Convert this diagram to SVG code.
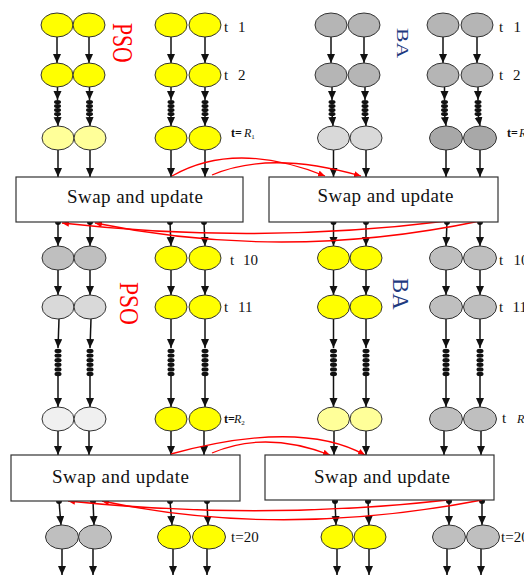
<svg xmlns="http://www.w3.org/2000/svg" width="524" height="575" viewBox="0 0 524 575">
<style>
.n{stroke:#333;stroke-width:1}
.y{fill:#ffff00}.ly{fill:#ffff99}.g1{fill:#b5b5b5}.g2{fill:#bfbfbf}.g3{fill:#d9d9d9}.g4{fill:#a8a8a8}.g5{fill:#f0f0f0}
.box{fill:#fff;stroke:#333;stroke-width:1.2}
.bt{font-family:"Liberation Serif",serif;font-size:19px;fill:#111}
.t{font-family:"Liberation Serif",serif;font-size:15px;fill:#111}
.ts{font-family:"Liberation Serif",serif;font-size:12px;fill:#111}
.k line{stroke:#111;stroke-width:1.5}
.k .a{marker-end:url(#ah)}
.blob{fill:#111}
.red{fill:none;stroke:#ff0000;stroke-width:1.3;marker-end:url(#rh)}
</style>
<defs>
<marker id="ah" markerUnits="userSpaceOnUse" markerWidth="9" markerHeight="9" refX="9" refY="4" orient="auto"><path d="M0,0 L9,4 L0,8 z" fill="#111"/></marker>
<marker id="rh" markerUnits="userSpaceOnUse" markerWidth="8" markerHeight="6" refX="7" refY="3" orient="auto"><path d="M0,0 L7,3 L0,6 z" fill="#ff0000"/></marker>
</defs>

<g id="connectors" class="k">
<line class="a" x1="57" y1="37" x2="57" y2="63"/><line class="a" x1="89" y1="37" x2="89" y2="63"/>
<line class="a" x1="171" y1="37" x2="171" y2="63"/><line class="a" x1="205" y1="37" x2="205" y2="63"/>
<line class="a" x1="331" y1="37" x2="331" y2="63"/><line class="a" x1="364" y1="37" x2="364" y2="63"/>
<line class="a" x1="443" y1="37" x2="443" y2="63"/><line class="a" x1="477" y1="37" x2="477" y2="63"/>
<g id="chain1">
<line class="a" x1="57.5" y1="87" x2="57.5" y2="100"/><line class="a" x1="57.5" y1="114" x2="58" y2="126"/>
<line class="a" x1="89.5" y1="87" x2="89.5" y2="100"/><line class="a" x1="89.5" y1="114" x2="90" y2="126"/>
<line class="a" x1="171" y1="87" x2="171" y2="100"/><line class="a" x1="171" y1="114" x2="171" y2="126"/>
<line class="a" x1="205" y1="87" x2="205" y2="100"/><line class="a" x1="205" y1="114" x2="205" y2="126"/>
<line class="a" x1="332" y1="87" x2="332" y2="100"/><line class="a" x1="332" y1="114" x2="333" y2="126"/>
<line class="a" x1="365" y1="87" x2="365" y2="100"/><line class="a" x1="365" y1="114" x2="366" y2="126"/>
<line class="a" x1="444.5" y1="87" x2="444.5" y2="100"/><line class="a" x1="444.5" y1="114" x2="446" y2="126"/>
<line class="a" x1="478" y1="87" x2="478" y2="100"/><line class="a" x1="478" y1="114" x2="480" y2="126"/>
<g class="blob">
<ellipse cx="57.5" cy="102" rx="3.5" ry="2.1"/><ellipse cx="57.5" cy="106" rx="3.5" ry="2.1"/><ellipse cx="57.5" cy="110" rx="3.5" ry="2.1"/><ellipse cx="57.5" cy="114" rx="3.5" ry="2.1"/>
<ellipse cx="89.5" cy="102" rx="3.5" ry="2.1"/><ellipse cx="89.5" cy="106" rx="3.5" ry="2.1"/><ellipse cx="89.5" cy="110" rx="3.5" ry="2.1"/><ellipse cx="89.5" cy="114" rx="3.5" ry="2.1"/>
<ellipse cx="171" cy="102" rx="3.5" ry="2.1"/><ellipse cx="171" cy="106" rx="3.5" ry="2.1"/><ellipse cx="171" cy="110" rx="3.5" ry="2.1"/><ellipse cx="171" cy="114" rx="3.5" ry="2.1"/>
<ellipse cx="205" cy="102" rx="3.5" ry="2.1"/><ellipse cx="205" cy="106" rx="3.5" ry="2.1"/><ellipse cx="205" cy="110" rx="3.5" ry="2.1"/><ellipse cx="205" cy="114" rx="3.5" ry="2.1"/>
<ellipse cx="332" cy="102" rx="3.5" ry="2.1"/><ellipse cx="332" cy="106" rx="3.5" ry="2.1"/><ellipse cx="332" cy="110" rx="3.5" ry="2.1"/><ellipse cx="332" cy="114" rx="3.5" ry="2.1"/>
<ellipse cx="365" cy="102" rx="3.5" ry="2.1"/><ellipse cx="365" cy="106" rx="3.5" ry="2.1"/><ellipse cx="365" cy="110" rx="3.5" ry="2.1"/><ellipse cx="365" cy="114" rx="3.5" ry="2.1"/>
<ellipse cx="444.5" cy="102" rx="3.5" ry="2.1"/><ellipse cx="444.5" cy="106" rx="3.5" ry="2.1"/><ellipse cx="444.5" cy="110" rx="3.5" ry="2.1"/><ellipse cx="444.5" cy="114" rx="3.5" ry="2.1"/>
<ellipse cx="478" cy="102" rx="3.5" ry="2.1"/><ellipse cx="478" cy="106" rx="3.5" ry="2.1"/><ellipse cx="478" cy="110" rx="3.5" ry="2.1"/><ellipse cx="478" cy="114" rx="3.5" ry="2.1"/>
</g>
</g>
<line class="a" x1="58" y1="150" x2="58" y2="177"/><line class="a" x1="90" y1="150" x2="90" y2="177"/>
<line class="a" x1="171" y1="150" x2="171" y2="177"/><line class="a" x1="205" y1="150" x2="205" y2="177"/>
<line class="a" x1="333.5" y1="150" x2="333.5" y2="177"/><line class="a" x1="366" y1="150" x2="366" y2="177"/>
<line class="a" x1="446" y1="150" x2="446" y2="177"/><line class="a" x1="480" y1="150" x2="480" y2="177"/>
<line class="a" x1="58" y1="222" x2="58" y2="246"/><line class="a" x1="90" y1="222" x2="90" y2="246"/>
<line class="a" x1="170" y1="222" x2="171" y2="246"/><line class="a" x1="204" y1="222" x2="205" y2="246"/>
<line class="a" x1="333.5" y1="222" x2="333.5" y2="246"/><line class="a" x1="366" y1="222" x2="366" y2="246"/>
<line class="a" x1="447" y1="222" x2="446" y2="246"/><line class="a" x1="480" y1="222" x2="480" y2="246"/>
<g class="blob">
<circle cx="58" cy="222" r="3"/><circle cx="90" cy="222" r="3"/><circle cx="170" cy="222" r="3"/><circle cx="204" cy="222" r="3"/>
<circle cx="333.5" cy="222" r="3"/><circle cx="366" cy="222" r="3"/><circle cx="447" cy="222" r="3"/><circle cx="480" cy="222" r="3"/>
</g>
<line class="a" x1="58" y1="270" x2="58" y2="295"/><line class="a" x1="90" y1="270" x2="90" y2="295"/>
<line class="a" x1="171" y1="270" x2="171" y2="295"/><line class="a" x1="205" y1="270" x2="205" y2="295"/>
<line class="a" x1="333.5" y1="270" x2="333.5" y2="295"/><line class="a" x1="366" y1="270" x2="366" y2="295"/>
<line class="a" x1="446" y1="270" x2="446" y2="295"/><line class="a" x1="480" y1="270" x2="480" y2="295"/>
<g id="chain2">
<line class="a" x1="59" y1="319" x2="58" y2="348"/><line class="a" x1="58" y1="375" x2="58" y2="407"/>
<line class="a" x1="91" y1="319" x2="90" y2="348"/><line class="a" x1="90" y1="375" x2="90" y2="407"/>
<line class="a" x1="171" y1="319" x2="171" y2="348"/><line class="a" x1="171" y1="375" x2="171" y2="407"/>
<line class="a" x1="205" y1="319" x2="205" y2="348"/><line class="a" x1="205" y1="375" x2="205" y2="407"/>
<line class="a" x1="333.5" y1="319" x2="333.5" y2="348"/><line class="a" x1="333.5" y1="375" x2="333.5" y2="407"/>
<line class="a" x1="366" y1="319" x2="366" y2="348"/><line class="a" x1="366" y1="375" x2="366" y2="407"/>
<line class="a" x1="446" y1="319" x2="446" y2="348"/><line class="a" x1="446" y1="375" x2="446" y2="407"/>
<line class="a" x1="480" y1="319" x2="480" y2="348"/><line class="a" x1="480" y1="375" x2="480" y2="407"/>
<g class="blob">
<ellipse cx="58" cy="351" rx="3.5" ry="2.2"/><ellipse cx="58" cy="355.6" rx="3.5" ry="2.2"/><ellipse cx="58" cy="360.2" rx="3.5" ry="2.2"/><ellipse cx="58" cy="364.8" rx="3.5" ry="2.2"/><ellipse cx="58" cy="369.4" rx="3.5" ry="2.2"/><ellipse cx="58" cy="374" rx="3.5" ry="2.2"/>
<ellipse cx="90" cy="351" rx="3.5" ry="2.2"/><ellipse cx="90" cy="355.6" rx="3.5" ry="2.2"/><ellipse cx="90" cy="360.2" rx="3.5" ry="2.2"/><ellipse cx="90" cy="364.8" rx="3.5" ry="2.2"/><ellipse cx="90" cy="369.4" rx="3.5" ry="2.2"/><ellipse cx="90" cy="374" rx="3.5" ry="2.2"/>
<ellipse cx="171" cy="351" rx="3.5" ry="2.2"/><ellipse cx="171" cy="355.6" rx="3.5" ry="2.2"/><ellipse cx="171" cy="360.2" rx="3.5" ry="2.2"/><ellipse cx="171" cy="364.8" rx="3.5" ry="2.2"/><ellipse cx="171" cy="369.4" rx="3.5" ry="2.2"/><ellipse cx="171" cy="374" rx="3.5" ry="2.2"/>
<ellipse cx="205" cy="351" rx="3.5" ry="2.2"/><ellipse cx="205" cy="355.6" rx="3.5" ry="2.2"/><ellipse cx="205" cy="360.2" rx="3.5" ry="2.2"/><ellipse cx="205" cy="364.8" rx="3.5" ry="2.2"/><ellipse cx="205" cy="369.4" rx="3.5" ry="2.2"/><ellipse cx="205" cy="374" rx="3.5" ry="2.2"/>
<ellipse cx="333.5" cy="351" rx="3.5" ry="2.2"/><ellipse cx="333.5" cy="355.6" rx="3.5" ry="2.2"/><ellipse cx="333.5" cy="360.2" rx="3.5" ry="2.2"/><ellipse cx="333.5" cy="364.8" rx="3.5" ry="2.2"/><ellipse cx="333.5" cy="369.4" rx="3.5" ry="2.2"/><ellipse cx="333.5" cy="374" rx="3.5" ry="2.2"/>
<ellipse cx="366" cy="351" rx="3.5" ry="2.2"/><ellipse cx="366" cy="355.6" rx="3.5" ry="2.2"/><ellipse cx="366" cy="360.2" rx="3.5" ry="2.2"/><ellipse cx="366" cy="364.8" rx="3.5" ry="2.2"/><ellipse cx="366" cy="369.4" rx="3.5" ry="2.2"/><ellipse cx="366" cy="374" rx="3.5" ry="2.2"/>
<ellipse cx="446" cy="351" rx="3.5" ry="2.2"/><ellipse cx="446" cy="355.6" rx="3.5" ry="2.2"/><ellipse cx="446" cy="360.2" rx="3.5" ry="2.2"/><ellipse cx="446" cy="364.8" rx="3.5" ry="2.2"/><ellipse cx="446" cy="369.4" rx="3.5" ry="2.2"/><ellipse cx="446" cy="374" rx="3.5" ry="2.2"/>
<ellipse cx="480" cy="351" rx="3.5" ry="2.2"/><ellipse cx="480" cy="355.6" rx="3.5" ry="2.2"/><ellipse cx="480" cy="360.2" rx="3.5" ry="2.2"/><ellipse cx="480" cy="364.8" rx="3.5" ry="2.2"/><ellipse cx="480" cy="369.4" rx="3.5" ry="2.2"/><ellipse cx="480" cy="374" rx="3.5" ry="2.2"/>
</g>
</g>
<line class="a" x1="58" y1="431" x2="58" y2="455"/><line class="a" x1="89" y1="431" x2="89" y2="455"/>
<line class="a" x1="171" y1="431" x2="171" y2="455"/><line class="a" x1="204" y1="431" x2="204" y2="455"/>
<line class="a" x1="334" y1="431" x2="334" y2="455"/><line class="a" x1="366" y1="431" x2="366" y2="455"/>
<line class="a" x1="444" y1="431" x2="444" y2="455"/><line class="a" x1="481" y1="431" x2="481" y2="455"/>
<line class="a" x1="59" y1="501" x2="61" y2="525"/><line class="a" x1="93" y1="501" x2="94" y2="525"/>
<line class="a" x1="170" y1="501" x2="172" y2="525"/><line class="a" x1="207" y1="501" x2="208" y2="525"/>
<line class="a" x1="335" y1="501" x2="336" y2="525"/><line class="a" x1="368" y1="501" x2="369" y2="525"/>
<line class="a" x1="449" y1="501" x2="449" y2="525"/><line class="a" x1="482" y1="501" x2="482" y2="525"/>
<g class="blob">
<circle cx="59" cy="501" r="3"/><circle cx="93" cy="501" r="3"/><circle cx="170" cy="501" r="3"/><circle cx="207" cy="501" r="3"/>
<circle cx="335" cy="501" r="3"/><circle cx="368" cy="501" r="3"/><circle cx="449" cy="501" r="3"/><circle cx="482" cy="501" r="3"/>
</g>
<line class="a" x1="62" y1="549" x2="62" y2="575"/><line class="a" x1="93" y1="549" x2="93" y2="575"/>
<line class="a" x1="173" y1="549" x2="173" y2="575"/><line class="a" x1="207" y1="549" x2="207" y2="575"/>
<line class="a" x1="337" y1="549" x2="337" y2="575"/><line class="a" x1="369" y1="549" x2="369" y2="575"/>
<line class="a" x1="447" y1="549" x2="447" y2="575"/><line class="a" x1="481" y1="549" x2="481" y2="575"/>
<path class="red" d="M172,176 Q235,140 325,176"/>
<path class="red" d="M212,175 Q270,150 361,176"/>
<path class="red" d="M447,221 Q255,245 62,223"/>
<path class="red" d="M480,221 Q285,262 95,223"/>
<path class="red" d="M171,454 Q300,419 365,455"/>
<path class="red" d="M212,453 Q265,430 330,455"/>
<path class="red" d="M448,500 Q260,521 68,501"/>
<path class="red" d="M482,500 Q280,539 102,501"/>
</g>

<g id="row1">
<g id="n1a1"><ellipse class="n y" cx="57" cy="25" rx="16" ry="12"/></g>
<g id="n1a2"><ellipse class="n y" cx="89" cy="25" rx="16" ry="12"/></g>
<g id="n1b1"><ellipse class="n y" cx="171" cy="25" rx="16" ry="12"/></g>
<g id="n1b2"><ellipse class="n y" cx="205" cy="25" rx="16" ry="12"/></g>
<g id="n1c1"><ellipse class="n g1" cx="331" cy="25" rx="16" ry="12"/></g>
<g id="n1c2"><ellipse class="n g1" cx="364" cy="25" rx="16" ry="12"/></g>
<g id="n1d1"><ellipse class="n g1" cx="443" cy="25" rx="16" ry="12"/></g>
<g id="n1d2"><ellipse class="n g1" cx="477" cy="25" rx="16" ry="12"/></g>
</g>
<g id="row2">
<g id="n2a1"><ellipse class="n y" cx="57" cy="75" rx="16" ry="12"/></g>
<g id="n2a2"><ellipse class="n y" cx="89" cy="75" rx="16" ry="12"/></g>
<g id="n2b1"><ellipse class="n y" cx="171" cy="75" rx="16" ry="12"/></g>
<g id="n2b2"><ellipse class="n y" cx="205" cy="75" rx="16" ry="12"/></g>
<g id="n2c1"><ellipse class="n g1" cx="331" cy="75" rx="16" ry="12"/></g>
<g id="n2c2"><ellipse class="n g1" cx="364" cy="75" rx="16" ry="12"/></g>
<g id="n2d1"><ellipse class="n g1" cx="443" cy="75" rx="16" ry="12"/></g>
<g id="n2d2"><ellipse class="n g1" cx="477" cy="75" rx="16" ry="12"/></g>
</g>
<g id="row3">
<g id="n3a1"><ellipse class="n ly" cx="58" cy="138" rx="16" ry="12"/></g>
<g id="n3a2"><ellipse class="n ly" cx="90" cy="138" rx="16" ry="12"/></g>
<g id="n3b1"><ellipse class="n y" cx="171" cy="138" rx="16" ry="12"/></g>
<g id="n3b2"><ellipse class="n y" cx="205" cy="138" rx="16" ry="12"/></g>
<g id="n3c1"><ellipse class="n g3" cx="333.5" cy="138" rx="16" ry="12"/></g>
<g id="n3c2"><ellipse class="n g3" cx="366" cy="138" rx="16" ry="12"/></g>
<g id="n3d1"><ellipse class="n g4" cx="446" cy="138" rx="16.5" ry="12"/></g>
<g id="n3d2"><ellipse class="n g4" cx="480" cy="138" rx="16.5" ry="12"/></g>
</g>
<g id="box1l"><rect class="box" x="16" y="177" width="227" height="45"/><text class="bt" x="135" y="203" text-anchor="middle" textLength="136" lengthAdjust="spacing">Swap and update</text></g>
<g id="box1r"><rect class="box" x="269" y="177" width="229" height="45"/><text class="bt" x="385.5" y="202" text-anchor="middle" textLength="136" lengthAdjust="spacing">Swap and update</text></g>
<g id="row4">
<g id="n4a1"><ellipse class="n g2" cx="58" cy="258" rx="16" ry="12"/></g>
<g id="n4a2"><ellipse class="n g2" cx="90" cy="258" rx="16" ry="12"/></g>
<g id="n4b1"><ellipse class="n y" cx="171" cy="258" rx="16" ry="12"/></g>
<g id="n4b2"><ellipse class="n y" cx="205" cy="258" rx="16" ry="12"/></g>
<g id="n4c1"><ellipse class="n y" cx="333.5" cy="258" rx="16" ry="12"/></g>
<g id="n4c2"><ellipse class="n y" cx="366" cy="258" rx="16" ry="12"/></g>
<g id="n4d1"><ellipse class="n g2" cx="446" cy="258" rx="16.5" ry="12"/></g>
<g id="n4d2"><ellipse class="n g2" cx="480" cy="258" rx="16.5" ry="12"/></g>
</g>
<g id="row5">
<g id="n5a1"><ellipse class="n g3" cx="58" cy="307" rx="16" ry="12"/></g>
<g id="n5a2"><ellipse class="n g3" cx="90" cy="307" rx="16" ry="12"/></g>
<g id="n5b1"><ellipse class="n y" cx="171" cy="307" rx="16" ry="12"/></g>
<g id="n5b2"><ellipse class="n y" cx="205" cy="307" rx="16" ry="12"/></g>
<g id="n5c1"><ellipse class="n y" cx="333.5" cy="307" rx="16" ry="12"/></g>
<g id="n5c2"><ellipse class="n y" cx="366" cy="307" rx="16" ry="12"/></g>
<g id="n5d1"><ellipse class="n g2" cx="446" cy="307" rx="16.5" ry="12"/></g>
<g id="n5d2"><ellipse class="n g2" cx="480" cy="307" rx="16.5" ry="12"/></g>
</g>
<g id="row6">
<g id="n6a1"><ellipse class="n g5" cx="58" cy="419" rx="16" ry="12"/></g>
<g id="n6a2"><ellipse class="n g5" cx="90" cy="419" rx="16" ry="12"/></g>
<g id="n6b1"><ellipse class="n y" cx="171" cy="419" rx="16" ry="12"/></g>
<g id="n6b2"><ellipse class="n y" cx="205" cy="419" rx="16" ry="12"/></g>
<g id="n6c1"><ellipse class="n ly" cx="333.5" cy="419" rx="16" ry="12"/></g>
<g id="n6c2"><ellipse class="n ly" cx="366" cy="419" rx="16" ry="12"/></g>
<g id="n6d1"><ellipse class="n g2" cx="446" cy="419" rx="16.5" ry="12"/></g>
<g id="n6d2"><ellipse class="n g2" cx="480" cy="419" rx="16.5" ry="12"/></g>
</g>
<g id="box2l"><rect class="box" x="11" y="455" width="229" height="46"/><text class="bt" x="120.5" y="483" text-anchor="middle" textLength="137" lengthAdjust="spacing">Swap and update</text></g>
<g id="box2r"><rect class="box" x="265" y="455" width="229" height="45"/><text class="bt" x="382" y="483" text-anchor="middle" textLength="136" lengthAdjust="spacing">Swap and update</text></g>
<g id="row7">
<g id="n7a1"><ellipse class="n g2" cx="62" cy="537" rx="16.5" ry="12"/></g>
<g id="n7a2"><ellipse class="n g2" cx="95" cy="537" rx="16.5" ry="12"/></g>
<g id="n7b1"><ellipse class="n y" cx="174" cy="537" rx="16.5" ry="12"/></g>
<g id="n7b2"><ellipse class="n y" cx="209" cy="537" rx="16.5" ry="12"/></g>
<g id="n7c1"><ellipse class="n y" cx="337" cy="537" rx="16" ry="12"/></g>
<g id="n7c2"><ellipse class="n y" cx="370" cy="537" rx="16" ry="12"/></g>
<g id="n7d1"><ellipse class="n g2" cx="449" cy="537" rx="16.5" ry="12"/></g>
<g id="n7d2"><ellipse class="n g2" cx="483" cy="537" rx="16.5" ry="12"/></g>
</g>

<g id="labels">
<text font-family="Liberation Serif, serif" font-size="30" fill="#ff0000" transform="translate(113,23) rotate(90) scale(0.72,1)">PSO</text>
<text font-family="Liberation Serif, serif" font-size="17" fill="#1f3a7f" transform="translate(397,28) rotate(90) scale(1.28,1)">BA</text>
<text font-family="Liberation Serif, serif" font-size="27" fill="#ff0000" transform="translate(120,282) rotate(90) scale(0.87,1)">PSO</text>
<text font-family="Liberation Serif, serif" font-size="24" fill="#1f3a7f" transform="translate(393,278) rotate(90) scale(0.95,1)">BA</text>

<text class="t" x="224" y="32">t</text><text class="t" x="238" y="32">1</text>
<text class="t" x="224" y="80">t</text><text class="t" x="238" y="80">2</text>
<text class="ts" x="231" y="137" font-weight="bold">t=</text><text class="ts" x="244" y="137" font-style="italic">R<tspan font-size="7" font-style="normal" dy="2">1</tspan></text>
<text class="t" x="499" y="32">t</text><text class="t" x="513.5" y="32">1</text>
<text class="t" x="499" y="80">t</text><text class="t" x="513" y="80">2</text>
<text class="ts" x="507" y="137" font-weight="bold">t=</text><text class="ts" x="519" y="137" font-style="italic">R<tspan font-size="7" font-style="normal" dy="2">1</tspan></text>

<text class="t" x="230" y="265">t</text><text class="t" x="243" y="265">10</text>
<text class="t" x="499" y="265">t</text><text class="t" x="513.5" y="265">10</text>
<text class="t" x="224" y="312">t</text><text class="t" x="238" y="312">11</text>
<text class="t" x="499" y="312">t</text><text class="t" x="512.5" y="312">11</text>
<text class="ts" x="224" y="423" font-weight="bold">t=</text><text class="ts" x="234" y="423" font-style="italic">R<tspan font-size="7" font-style="normal" dy="2">2</tspan></text>
<text class="t" x="502" y="423">t</text><text class="ts" x="517" y="423" font-style="italic">R<tspan font-size="7" font-style="normal" dy="2">2</tspan></text>
<text class="t" x="231" y="542">t=20</text>
<text class="t" x="501" y="542">t=20</text>
</g>
</svg>
